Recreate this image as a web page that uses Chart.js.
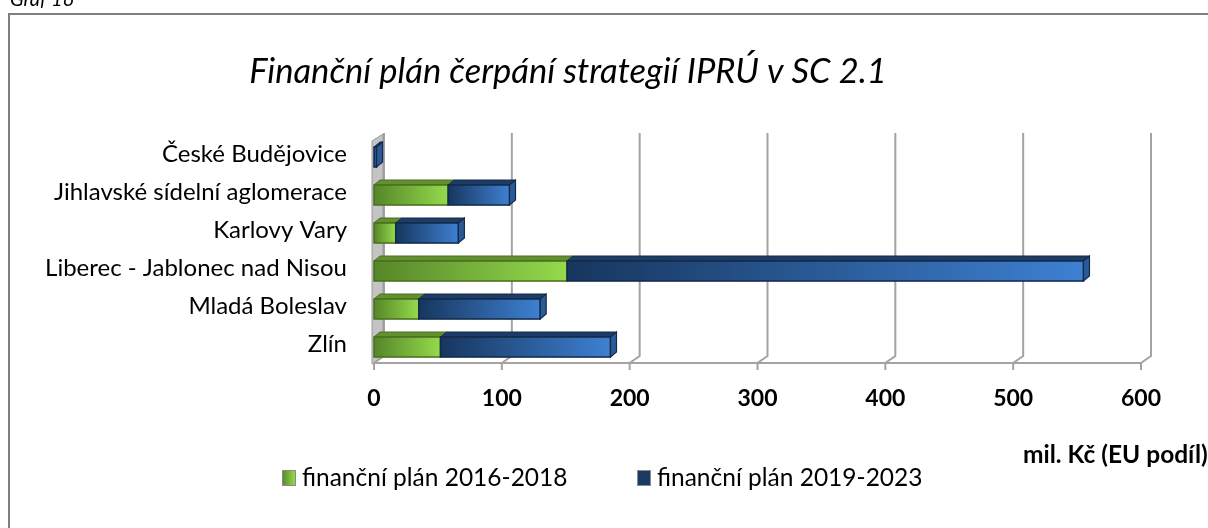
<!DOCTYPE html>
<html>
<head>
<meta charset="utf-8">
<script src="https://cdn.jsdelivr.net/npm/chart.js@4.4.1/dist/chart.umd.min.js"></script>
<style>
html, body { margin: 0; padding: 0; background: #fff; overflow: hidden; }
#wrap { position: relative; width: 1208px; height: 528px; }
</style>
</head>
<body>
<div id="wrap"><canvas id="chart" width="1208" height="528"></canvas></div>
<script>
// Data (mil. Kč, EU podíl)
const categories = [
    'České Budějovice',
    'Jihlavské sídelní aglomerace',
    'Karlovy Vary',
    'Liberec - Jablonec nad Nisou',
    'Mladá Boleslav',
    'Zlín'
];
const plan2016 = [0, 58, 17, 151, 35, 52];
const plan2019 = [2, 48, 49, 404, 95, 133];
const xTicks = [0, 100, 200, 300, 400, 500, 600];
const seriesNames = ['finanční plán 2016-2018', 'finanční plán 2019-2023'];

const FONT = 'Lato, "Open Sans", sans-serif';

// colours for the 3D look: [left of gradient, right of gradient, top face, side face, outline]
const greenStyle = ['#568629', '#94da4c', '#62902f', '#6c9c34', '#4a6e22'];
const blueStyle = ['#17365e', '#3e80d2', '#1d3c66', '#2b5a98', '#142a48'];

const DX = 6, DY = -5;      // bar depth
const BX = 10, BY = -7;     // wall depth

// Frame, walls, gridlines, 3D bars, texts
const backdrop = {
    id: 'backdrop',
    beforeDatasetsDraw(chart) {
        const ctx = chart.ctx;
        const area = chart.chartArea;
        const xs = chart.scales.x;
        const axisY = area.bottom - 3;

        ctx.save();
        // outer border
        ctx.strokeStyle = '#7f7f7f';
        ctx.lineWidth = 2;
        ctx.strokeRect(9, 14, 1300, 600);

        // "Graf 16" caption, cut off at top
        ctx.fillStyle = '#000';
        ctx.font = 'italic 20px ' + FONT;
        ctx.textBaseline = 'alphabetic';
        ctx.fillText('Graf 16', 10, 6);

        // gridlines (back plane + floor diagonal + tick)
        ctx.strokeStyle = '#a3a3a3';
        ctx.lineWidth = 2;
        xTicks.forEach(v => {
            const xf = xs.getPixelForValue(v);
            ctx.beginPath();
            ctx.moveTo(xf + BX, area.top - 5);
            ctx.lineTo(xf + BX, axisY + BY);
            ctx.lineTo(xf, axisY);
            ctx.lineTo(xf, axisY + 7);
            ctx.stroke();
        });

        // front axis line
        ctx.beginPath();
        ctx.moveTo(xs.getPixelForValue(0), axisY);
        ctx.lineTo(xs.getPixelForValue(600), axisY);
        ctx.stroke();

        // left wall
        const x0 = xs.getPixelForValue(0);
        ctx.fillStyle = '#c4c4c4';
        ctx.strokeStyle = '#9a9a9a';
        ctx.lineWidth = 1;
        ctx.beginPath();
        ctx.moveTo(x0 - 2, area.top + 3);
        ctx.lineTo(x0 + BX - 1, area.top - 4);
        ctx.lineTo(x0 + BX - 1, axisY + BY);
        ctx.lineTo(x0 - 2, axisY + 1);
        ctx.closePath();
        ctx.fill();
        ctx.stroke();
        ctx.restore();
    },
    afterDatasetsDraw(chart) {
        const ctx = chart.ctx;
        ctx.save();
        const metas = [chart.getDatasetMeta(0), chart.getDatasetMeta(1)];
        const styles = [greenStyle, blueStyle];
        metas.forEach((meta, di) => {
            const st = styles[di];
            meta.data.forEach((el, i) => {
                const p = el.getProps(['x', 'base', 'y', 'height'], true);
                const x0 = Math.min(p.x, p.base), x1 = Math.max(p.x, p.base);
                if (x1 - x0 < 0.5) return;
                const yt = p.y - p.height / 2, yb = p.y + p.height / 2;

                // top face
                ctx.fillStyle = st[2];
                ctx.beginPath();
                ctx.moveTo(x0, yt);
                ctx.lineTo(x0 + DX, yt + DY);
                ctx.lineTo(x1 + DX, yt + DY);
                ctx.lineTo(x1, yt);
                ctx.closePath();
                ctx.fill();
                ctx.strokeStyle = st[4];
                ctx.lineWidth = 1;
                ctx.stroke();

                // front face with gradient
                const g = ctx.createLinearGradient(x0, 0, x1, 0);
                g.addColorStop(0, st[0]);
                g.addColorStop(1, st[1]);
                ctx.fillStyle = g;
                ctx.fillRect(x0, yt, x1 - x0, yb - yt);
                ctx.lineWidth = 1.5;
                ctx.strokeRect(x0, yt, x1 - x0, yb - yt);

                // right side face on the outer segment
                const isLast = di === 1 || plan2019[i] === 0;
                if (isLast) {
                    ctx.fillStyle = st[3];
                    ctx.beginPath();
                    ctx.moveTo(x1, yt);
                    ctx.lineTo(x1 + DX, yt + DY);
                    ctx.lineTo(x1 + DX, yb + DY);
                    ctx.lineTo(x1, yb);
                    ctx.closePath();
                    ctx.fill();
                    ctx.lineWidth = 1.2;
                    ctx.stroke();
                }
            });
        });
        ctx.restore();
    },
    afterDraw(chart) {
        const ctx = chart.ctx;
        ctx.save();
        ctx.fillStyle = '#000';
        // title
        ctx.font = 'italic 34.5px ' + FONT;
        ctx.textAlign = 'center';
        ctx.textBaseline = 'middle';
        ctx.fillText('Finanční plán čerpání strategií IPRÚ v SC 2.1', 568, 72);

        // axis title
        ctx.font = 'bold 24.5px ' + FONT;
        ctx.textAlign = 'left';
        ctx.fillText('mil. Kč (EU podíl)', 1023, 455);

        // legend
        const items = [
            { x: 282, text: seriesNames[0], st: greenStyle },
            { x: 637, text: seriesNames[1], st: blueStyle }
        ];
        ctx.font = '24.5px ' + FONT;
        items.forEach(it => {
            const g = ctx.createLinearGradient(it.x, 0, it.x + 13, 0);
            g.addColorStop(0, it.st[0]);
            g.addColorStop(1, it.st[1]);
            ctx.fillStyle = it === items[1] ? '#1c3a62' : g;
            ctx.fillRect(it.x, 470, 13, 15);
            ctx.strokeStyle = '#8a8a8a';
            ctx.lineWidth = 1;
            ctx.strokeRect(it.x + 0.5, 470.5, 13, 15);
            ctx.fillStyle = '#000';
            ctx.fillText(it.text, it.x + 20, 478);
        });
        ctx.restore();
    }
};

new Chart(document.getElementById('chart'), {
    type: 'bar',
    data: {
        labels: categories,
        datasets: [
            { label: seriesNames[0], data: plan2016, backgroundColor: greenStyle[1], barThickness: 20 },
            { label: seriesNames[1], data: plan2019, backgroundColor: blueStyle[1], barThickness: 20 }
        ]
    },
    options: {
        indexAxis: 'y',
        responsive: false,
        animation: false,
        layout: { padding: { left: 10, top: 138, right: 67, bottom: 112 } },
        plugins: {
            legend: { display: false },
            title: { display: false },
            tooltip: { enabled: false }
        },
        scales: {
            x: {
                stacked: true,
                min: 0,
                max: 600,
                afterBuildTicks: scale => { scale.ticks = xTicks.map(v => ({ value: v })); },
                afterFit: scale => { scale.height = 50; },
                grid: { display: false, drawTicks: false },
                border: { display: false },
                ticks: {
                    color: '#000',
                    padding: 19,
                    font: { family: FONT, size: 23, weight: 'bold' }
                }
            },
            y: {
                stacked: true,
                afterFit: scale => { scale.width = 364; },
                grid: { display: false, drawTicks: false },
                border: { display: false },
                ticks: {
                    color: '#000',
                    padding: 27,
                    labelOffset: -3,
                    autoSkip: false,
                    font: { family: FONT, size: 24 }
                }
            }
        }
    },
    plugins: [backdrop]
});
</script>
</body>
</html>
